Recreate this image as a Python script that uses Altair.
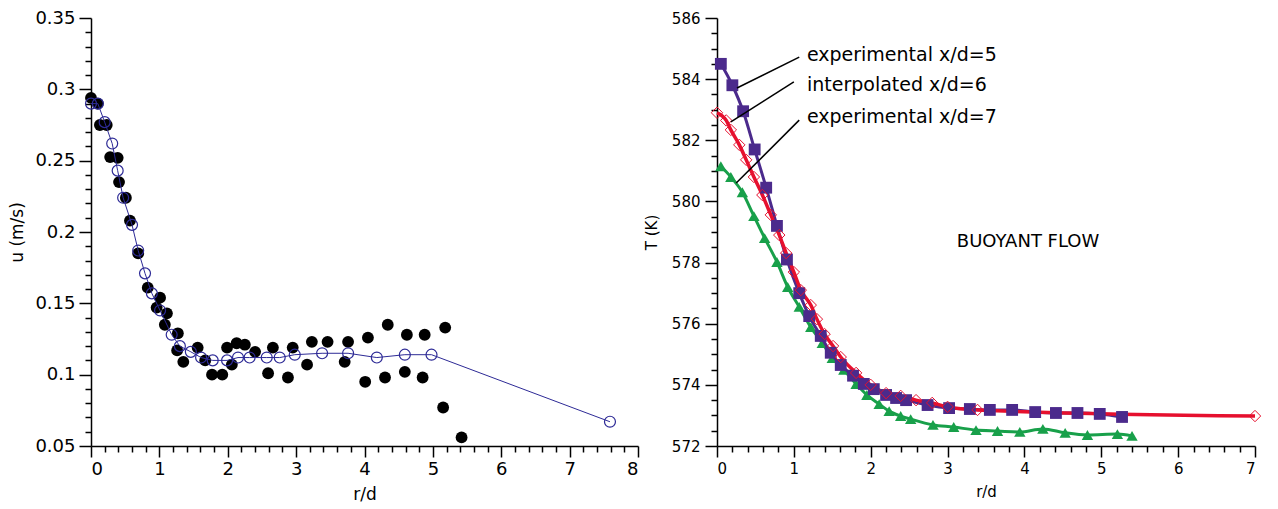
import altair as alt
import pandas as pd

# ---------------- Left panel: velocity profile ----------------
exp_r = [0.0, 0.10, 0.13, 0.23, 0.28, 0.39, 0.41, 0.51, 0.57, 0.69, 0.83, 1.01, 0.96, 1.11,
         1.08, 1.27, 1.26, 1.35, 1.56, 1.67, 1.77, 1.92, 1.99, 2.13, 2.25, 2.06, 2.40, 2.59,
         2.66, 2.88, 2.95, 3.16, 3.23, 3.46, 3.76, 3.71, 4.05, 4.01, 4.34, 4.30, 4.62, 4.59,
         4.88, 4.85, 5.18, 5.15, 5.42]
exp_u = [0.294, 0.290, 0.275, 0.275, 0.2525, 0.252, 0.235, 0.224, 0.208, 0.185, 0.161, 0.154,
         0.147, 0.143, 0.135, 0.129, 0.117, 0.109, 0.119, 0.110, 0.100, 0.100, 0.119, 0.122,
         0.121, 0.107, 0.116, 0.101, 0.119, 0.098, 0.119, 0.107, 0.123, 0.123, 0.123, 0.109,
         0.126, 0.095, 0.135, 0.098, 0.128, 0.102, 0.128, 0.098, 0.133, 0.077, 0.056]

mod_r = [0.0, 0.10, 0.20, 0.31, 0.39, 0.47, 0.60, 0.69, 0.79, 0.89, 1.01, 1.18, 1.30, 1.46,
         1.61, 1.78, 1.99, 2.15, 2.32, 2.57, 2.76, 2.98, 3.38, 3.76, 4.18, 4.59, 4.98, 7.59]
mod_u = [0.290, 0.290, 0.277, 0.262, 0.243, 0.224, 0.205, 0.187, 0.171, 0.157, 0.145, 0.128,
         0.120, 0.116, 0.112, 0.110, 0.110, 0.112, 0.112, 0.112, 0.112, 0.114, 0.115, 0.115,
         0.112, 0.114, 0.114, 0.067]

# ---------------- Right panel: temperature profiles ----------------
sq_r = [0.05, 0.20, 0.34, 0.49, 0.64, 0.78, 0.91, 1.07, 1.20, 1.35, 1.48, 1.61, 1.77, 1.91,
        2.04, 2.20, 2.33, 2.46, 2.74, 3.02, 3.29, 3.55, 3.84, 4.14, 4.41, 4.69, 4.98, 5.27]
sq_T = [584.5, 583.8, 582.95, 581.7, 580.45, 579.2, 578.1, 577.0, 576.25, 575.6, 575.05,
        574.65, 574.3, 574.03, 573.86, 573.67, 573.57, 573.5, 573.34, 573.24, 573.21, 573.18,
        573.18, 573.11, 573.08, 573.08, 573.05, 572.95]

tri_r = [0.05, 0.18, 0.33, 0.48, 0.62, 0.78, 0.92, 1.07, 1.22, 1.37, 1.50, 1.65, 1.81, 1.95,
         2.11, 2.24, 2.39, 2.52, 2.81, 3.08, 3.37, 3.65, 3.94, 4.24, 4.53, 4.82, 5.21, 5.40]
tri_T = [581.15, 580.8, 580.3, 579.52, 578.8, 578.02, 577.2, 576.55, 575.89, 575.37, 574.88,
         574.49, 574.03, 573.67, 573.37, 573.14, 572.98, 572.88, 572.69, 572.62, 572.52,
         572.49, 572.46, 572.56, 572.43, 572.36, 572.39, 572.33]

dia_r = [0.0, 0.12, 0.18, 0.29, 0.38, 0.48, 0.59, 0.70, 0.81, 0.90, 1.00, 1.09, 1.22, 1.30,
         1.40, 1.51, 1.61, 1.81, 2.00, 2.20, 2.39, 2.59, 2.80, 3.00, 3.39, 7.0]
dia_T = [582.9, 582.65, 582.34, 581.85, 581.36, 580.8, 580.21, 579.56, 578.9, 578.31, 577.69,
         577.1, 576.61, 576.15, 575.66, 575.27, 574.91, 574.39, 574.0, 573.73, 573.64, 573.5,
         573.41, 573.28, 573.18, 572.98]

ann_text = ["experimental x/d=5", "interpolated x/d=6", "experimental x/d=7"]
ann_r = [1.17, 1.17, 1.17]
ann_T = [584.79, 583.81, 582.76]
lead_r1 = [1.07, 1.00, 1.07]
lead_T1 = [584.72, 583.91, 582.66]
lead_r2 = [0.26, 0.18, 0.25]
lead_T2 = [583.71, 582.60, 580.60]

flow_label = ["BUOYANT FLOW"]
flow_r = [3.12]
flow_T = [578.67]

# tick positions
lx_ticks = [round(i * 0.2, 1) for i in range(0, 41)]
ly_ticks = [round(0.05 + i * 0.01, 2) for i in range(0, 31)]
rx_ticks = [round(i * 0.2, 1) for i in range(0, 36)]
ry_ticks = [572 + i * 0.5 for i in range(0, 29)]

FONT = "DejaVu Sans"

df_exp = pd.DataFrame({"r": exp_r, "v": exp_u})
df_mod = pd.DataFrame({"r": mod_r, "v": mod_u})
df_sq = pd.DataFrame({"r": sq_r, "v": sq_T})
df_tri = pd.DataFrame({"r": tri_r, "v": tri_T})
df_dia = pd.DataFrame({"r": dia_r, "v": dia_T})
df_ann = pd.DataFrame({"r": ann_r, "v": ann_T, "t": ann_text})
df_lead = pd.DataFrame({"r": lead_r1, "v": lead_T1, "r2": lead_r2, "v2": lead_T2})
df_flow = pd.DataFrame({"r": flow_r, "v": flow_T, "t": flow_label})

is_int = "abs(datum.value - round(datum.value)) < 1e-6"


def left_axis(**kw):
    return alt.Axis(labelFont=FONT, labelFontSize=18, titleFont=FONT, titleFontSize=17,
                    titleFontWeight="normal", **kw)


def right_axis(**kw):
    return alt.Axis(labelFont=FONT, labelFontSize=15, titleFont=FONT, titleFontSize=15,
                    titleFontWeight="normal", **kw)


lx = alt.X("r:Q", scale=alt.Scale(domain=[0, 8], nice=False, zero=False),
           axis=left_axis(title="r/d", values=lx_ticks, labelPadding=3, titlePadding=8,
                          tickSize={"condition": {"test": is_int, "value": 11}, "value": 6},
                          labelExpr=f"{is_int} ? format(datum.value, 'd') : ''"))
ly_test = "abs(datum.value * 20 - round(datum.value * 20)) < 1e-6"
ly = alt.Y("v:Q", scale=alt.Scale(domain=[0.05, 0.35], nice=False, zero=False),
           axis=left_axis(title="u (m/s)", values=ly_ticks, labelPadding=4, titlePadding=8,
                          tickSize={"condition": {"test": ly_test, "value": 12}, "value": 6},
                          labelExpr=f"{ly_test} ? format(datum.value, '~g') : ''"))

rx = alt.X("r:Q", scale=alt.Scale(domain=[0, 7], nice=False, zero=False),
           axis=right_axis(title="r/d", values=rx_ticks, labelPadding=4, titlePadding=8,
                           tickSize={"condition": {"test": is_int, "value": 11}, "value": 6},
                           labelExpr=f"{is_int} ? format(datum.value, 'd') : ''"))
ry_test = "datum.value % 2 == 0"
ry = alt.Y("v:Q", scale=alt.Scale(domain=[572, 586], nice=False, zero=False),
           axis=right_axis(title="T (K)", values=ry_ticks, labelPadding=5, titlePadding=12,
                           tickSize={"condition": {"test": ry_test, "value": 12}, "value": 6},
                           labelExpr=f"{ry_test} ? format(datum.value, 'd') : ''"))

BLUE = "#2d2a96"
left = alt.layer(
    alt.Chart(df_exp).mark_circle(size=140, color="black", opacity=1).encode(x=lx, y=ly),
    alt.Chart(df_mod).mark_line(color=BLUE, strokeWidth=1).encode(x=lx, y=ly),
    alt.Chart(df_mod).mark_point(shape="circle", filled=False, size=120, color=BLUE,
                                 strokeWidth=1.2, opacity=1).encode(x=lx, y=ly),
).properties(width=547, height=428)

PURPLE = "#4b2a8c"
GREEN = "#18a04a"
RED = "#e6102e"
right = alt.layer(
    alt.Chart(df_tri).mark_line(color=GREEN, strokeWidth=3, interpolate="monotone").encode(x=rx, y=ry),
    alt.Chart(df_tri).mark_point(shape="triangle-up", filled=True, size=130, color=GREEN,
                                 opacity=1).encode(x=rx, y=ry),
    alt.Chart(df_sq).mark_line(color=PURPLE, strokeWidth=3, interpolate="monotone").encode(x=rx, y=ry),
    alt.Chart(df_dia).mark_line(color=RED, strokeWidth=3.5, interpolate="monotone").encode(x=rx, y=ry),
    alt.Chart(df_sq).mark_point(shape="square", filled=True, size=140, color=PURPLE,
                                opacity=1).encode(x=rx, y=ry),
    alt.Chart(df_dia).mark_point(shape="diamond", filled=False, size=130, color=RED,
                                 strokeWidth=1, opacity=1).encode(x=rx, y=ry),
    alt.Chart(df_lead).mark_rule(color="black", strokeWidth=1.5).encode(
        x=rx, y=ry, x2="r2:Q", y2="v2:Q"),
    alt.Chart(df_ann).mark_text(align="left", baseline="middle", fontSize=19, font=FONT,
                                color="black").encode(x=rx, y=ry, text="t:N"),
    alt.Chart(df_flow).mark_text(align="left", baseline="middle", fontSize=18, font=FONT,
                                 color="black").encode(x=rx, y=ry, text="t:N"),
).properties(width=538, height=428)

chart = alt.hconcat(left, right, spacing=5).properties(
    padding={"left": 0, "top": 1, "right": 5, "bottom": 5}
).configure_view(stroke=None).configure_axis(
    grid=False, domainColor="black", domainWidth=1.5, tickColor="black", tickWidth=1.5,
    labelColor="black", titleColor="black"
)

chart.save("out.html", embed_options={"renderer": "svg", "actions": False})
